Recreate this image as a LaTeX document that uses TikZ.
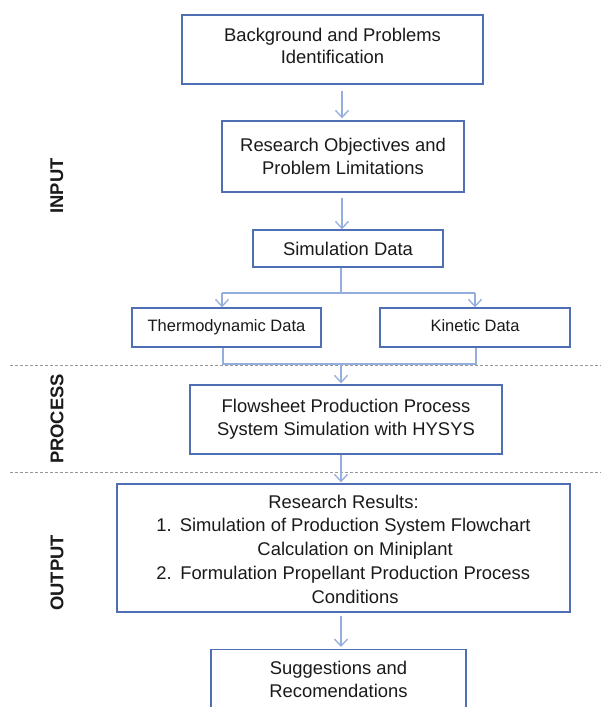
\documentclass[tikz,border=0pt]{standalone}
\usepackage{fontspec}
\setmainfont{Liberation Sans}
\usetikzlibrary{arrows.meta}
\definecolor{boxblue}{HTML}{4F6FB5}
\definecolor{arrblue}{HTML}{94AEDD}
\definecolor{txt}{HTML}{1A1A1A}
\begin{document}
\begin{tikzpicture}[x=1pt,y=-1pt,
  font=\fontsize{18.4}{23}\selectfont,
  box/.style={draw=boxblue, line width=1.4pt, align=center, text=txt, inner sep=0pt, fill=white},
  small/.style={font=\fontsize{16.5}{20}\selectfont, text height=12pt, text depth=3.5pt},
  arr/.style={draw=arrblue, line width=1.3pt, -{Straight Barb[length=7pt,width=13pt]}},
  ln/.style={draw=arrblue, line width=1.3pt},
  sep/.style={draw=gray!80, line width=0.9pt, dash pattern=on 3pt off 2pt},
  side/.style={rotate=90, font=\fontsize{18.4}{22}\selectfont\bfseries, text=txt}]
\useasboundingbox (0,0) rectangle (601,707);
\fill[white] (0,0) rectangle (601,707);

% separators
\coordinate (s1l) at (10,365); \coordinate (s1r) at (601,365);
\coordinate (s2l) at (10,472); \coordinate (s2r) at (601,472);
\draw[sep] (s1l) -- (s1r);
\draw[sep] (s2l) -- (s2r);

% side labels
\node[side] (lin) at (57,186) {INPUT};
\node[side] (lpr) at (57,419) {PROCESS};
\node[side] (lout) at (57,573) {OUTPUT};

% boxes
\node[box, minimum width=301pt, minimum height=69pt] (b1) at (332.5,49.5) {\raisebox{1.5pt}[\height][\depth]{\fontsize{18.4}{22.5}\selectfont\begin{tabular}{@{}c@{}}Background and Problems\\Identification\end{tabular}}};
\node[box, minimum width=242pt, minimum height=71pt] (b2) at (343,156.5) {Research Objectives and\\Problem Limitations};
\node[box, minimum width=190pt, minimum height=37pt] (b3) at (348,248.5) {Simulation Data};
\node[box, small, minimum width=189pt, minimum height=39pt] (th) at (226.5,327.5) {Thermodynamic Data};
\node[box, small, minimum width=190pt, minimum height=39pt] (ki) at (475,327.5) {Kinetic Data};
\node[box, minimum width=312pt, minimum height=69pt] (b4) at (346,419.5) {Flowsheet Production Process\\System Simulation with HYSYS};
\node[box, minimum width=453pt, minimum height=128pt] (b5) at (343.5,548) {%
  \raisebox{-3pt}[\height][\depth]{\fontsize{18.4}{23.8}\selectfont
  \begin{tabular}{@{}r@{\hspace{8pt}}c@{}}
  \multicolumn{2}{c}{Research Results:}\\
  1. & Simulation of Production System Flowchart\\
     & Calculation on Miniplant\\
  2. & Formulation Propellant Production Process\\
     & Conditions
  \end{tabular}}};
\node[box, minimum width=255pt, minimum height=60pt, anchor=north] (b6) at (338.5,649) {Suggestions and\\Recomendations};

% connectors
\coordinate (ax) at (342,0);
\coordinate (j1) at (341,293);
\coordinate (tl) at (222,293);
\coordinate (tr) at (475,293);
\coordinate (bl) at (223,364);
\coordinate (br) at (476,364);
\coordinate (j2) at (341,364);

\draw[arr] ([yshift=-6pt]b1.south -| ax) -- ([yshift=2pt]b2.north -| ax);
\draw[arr] ([yshift=-5pt]b2.south -| ax) -- (b3.north -| ax);
\draw[ln] (b3.south -| j1) -- (j1);
\draw[ln] (tl) -- (tr);
\draw[arr] (tl) -- (th.north -| tl);
\draw[arr] (tr) -- (ki.north -| tr);
\draw[ln] (th.south -| bl) -- (bl) -- (br) -- (ki.south -| br);
\draw[arr] (j2) -- ([yshift=1pt]b4.north -| j2);
\draw[arr] (b4.south -| j2) -- ([yshift=1pt]b5.north -| j2);
\draw[arr] ([yshift=-3pt]b5.south -| j2) -- ([yshift=2pt]b6.north -| j2);
\end{tikzpicture}
\end{document}
